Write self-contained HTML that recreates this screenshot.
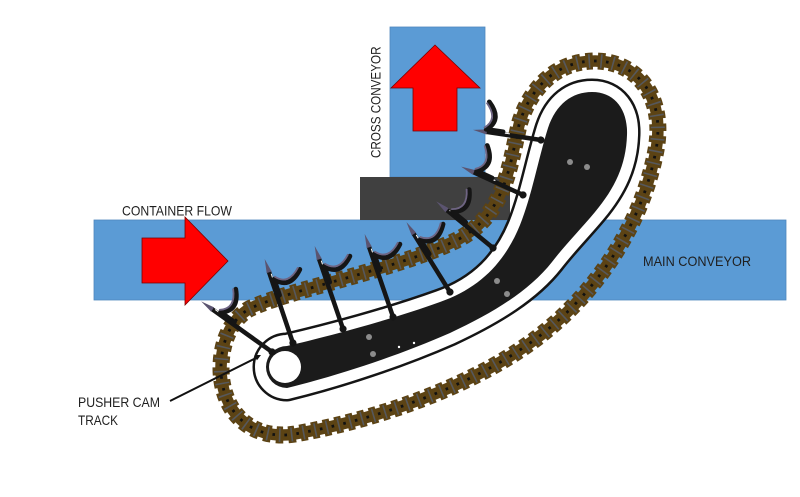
<!DOCTYPE html>
<html><head><meta charset="utf-8"><style>
html,body{margin:0;padding:0;background:#fff;}
svg{display:block;}
text{font-family:"Liberation Sans",sans-serif;fill:#1f1f1f;}
</style></head><body>
<svg width="800" height="497" viewBox="0 0 800 497" xmlns="http://www.w3.org/2000/svg">
<defs>
<g id="cup">
<path d="M2.5,38 L2.5,21 Q14,36 30,20" stroke="#151515" stroke-width="4.8" fill="none" stroke-linejoin="round" stroke-linecap="round"/>
<path d="M3.5,18.5 Q14,32 29,17.5" stroke="#6e6482" stroke-width="1.8" fill="none"/>
</g>
<g id="tip">
<path d="M0,-1 L2.6,13 L-2.6,13 Z" fill="#5b5470"/>
<line x1="1.5" y1="15" x2="1.5" y2="36" stroke="#fff" stroke-width="1"/>
</g>
<path id="chainp" d="M221,368 C221,411 250,441 295,434 C380,419 470,386 530,343 C591,300 641,230 656,150 C666,94 635,61 595,61 C555,61 529,90 519,125 C509,170 504,214 459,239 C400,269 290,289 249,309 C229,321 221,345 221,368 Z"/>
</defs>
<rect x="0" y="0" width="800" height="497" fill="#fff"/>
<!-- conveyors -->
<rect x="94" y="220" width="692" height="80" fill="#5b9bd5" stroke="#4f87bd" stroke-width="0.8"/>
<rect x="390" y="27" width="95" height="150" fill="#5b9bd5" stroke="#4f87bd" stroke-width="0.8"/>
<rect x="360" y="177" width="150" height="43" fill="#404040"/>
<!-- red arrows -->
<polygon points="142,238 185,238 185,217 228,261 185,305 185,283 142,283" fill="#ff0000" stroke="#7a0000" stroke-width="0.8"/>
<polygon points="435,45 480,88 457,88 457,131 413,131 413,88 391,88" fill="#ff0000" stroke="#7a0000" stroke-width="0.8"/>
<!-- labels -->
<text x="122" y="215.5" font-size="14" textLength="110" lengthAdjust="spacingAndGlyphs">CONTAINER FLOW</text>
<text x="643" y="266" font-size="14" textLength="108" lengthAdjust="spacingAndGlyphs">MAIN CONVEYOR</text>
<text x="78" y="407" font-size="14" textLength="82" lengthAdjust="spacingAndGlyphs">PUSHER CAM</text>
<text x="78" y="425" font-size="14" textLength="40" lengthAdjust="spacingAndGlyphs">TRACK</text>
<text transform="translate(380.7,158) rotate(-90)" x="0" y="0" font-size="14" textLength="111.5" lengthAdjust="spacingAndGlyphs">CROSS CONVEYOR</text>

<!-- cam track -->
<path d="M287,346 C330,336 390,320 440,302 C480,288 505,262 520,225 C532,195 538,160 548,128 C556,104 572,92 592,92 C615,92 628,110 627,135 C626,165 615,188 595,212 C580,230 565,245 552,262 C530,290 495,312 450,333 C400,355 340,375 287,388 A21,21 0 0 1 287,346 Z" fill="#1b1b1b" stroke="#151515" stroke-width="27" stroke-linejoin="round"/>
<path d="M287,346 C330,336 390,320 440,302 C480,288 505,262 520,225 C532,195 538,160 548,128 C556,104 572,92 592,92 C615,92 628,110 627,135 C626,165 615,188 595,212 C580,230 565,245 552,262 C530,290 495,312 450,333 C400,355 340,375 287,388 A21,21 0 0 1 287,346 Z" fill="#1b1b1b" stroke="#ffffff" stroke-width="22" stroke-linejoin="round"/>
<path d="M287,346 C330,336 390,320 440,302 C480,288 505,262 520,225 C532,195 538,160 548,128 C556,104 572,92 592,92 C615,92 628,110 627,135 C626,165 615,188 595,212 C580,230 565,245 552,262 C530,290 495,312 450,333 C400,355 340,375 287,388 A21,21 0 0 1 287,346 Z" fill="#1b1b1b"/>
<circle cx="285" cy="367" r="16" fill="#fff"/>
<g fill="#8c8c8c">
<circle cx="570" cy="162" r="3"/><circle cx="587" cy="167" r="3"/>
<circle cx="497" cy="281" r="3"/><circle cx="507" cy="294" r="3"/>
<circle cx="369" cy="337" r="3"/><circle cx="373" cy="354" r="3"/>
</g>
<circle cx="399" cy="347" r="1.2" fill="#fff"/><circle cx="414" cy="343" r="1.2" fill="#fff"/>

<!-- chain -->
<g fill="none">
<use href="#chainp" stroke="#5c4314" stroke-width="17" stroke-dasharray="7 5"/>
<use href="#chainp" stroke="#5c4314" stroke-width="11.5"/>
<use href="#chainp" stroke="#56585c" stroke-width="14" stroke-dasharray="1.6 10.4" stroke-dashoffset="-2.7"/>
<use href="#chainp" stroke="#111" stroke-width="2.8" stroke-dasharray="2.6 9.4" stroke-dashoffset="-8.2"/>
</g>

<!-- pushers -->
<g transform="translate(202,302) rotate(-54.5)">
<line x1="0" y1="12" x2="0" y2="86" stroke="#151515" stroke-width="4.5"/>
<use href="#tip"/><use href="#cup"/>
<circle cx="0" cy="86" r="3.6" fill="#151515"/>
</g>
<g transform="translate(265,260) rotate(-18.6)">
<line x1="0" y1="12" x2="0" y2="87.6" stroke="#151515" stroke-width="4.5"/>
<use href="#tip"/><use href="#cup"/>
<circle cx="0" cy="87.6" r="3.6" fill="#151515"/>
</g>
<g transform="translate(315,247) rotate(-18.9)">
<line x1="0" y1="12" x2="0" y2="86.6" stroke="#151515" stroke-width="4.5"/>
<use href="#tip"/><use href="#cup"/>
<circle cx="0" cy="86.6" r="3.6" fill="#151515"/>
</g>
<g transform="translate(365,235) rotate(-18.9)">
<line x1="0" y1="12" x2="0" y2="86.6" stroke="#151515" stroke-width="4.5"/>
<use href="#tip"/><use href="#cup"/>
<circle cx="0" cy="86.6" r="3.6" fill="#151515"/>
</g>
<g transform="translate(407,223) rotate(-31.9)">
<line x1="0" y1="12" x2="0" y2="81.3" stroke="#151515" stroke-width="4.5"/>
<use href="#tip"/><use href="#cup"/>
<circle cx="0" cy="81.3" r="3.6" fill="#151515"/>
</g>
<g transform="translate(437,202) rotate(-50.6)">
<line x1="0" y1="12" x2="0" y2="72.5" stroke="#151515" stroke-width="4.5"/>
<use href="#tip"/><use href="#cup" transform="translate(0,-3)"/>
<circle cx="0" cy="72.5" r="3.6" fill="#151515"/>
</g>
<g transform="translate(462,167) rotate(-65.4)">
<line x1="0" y1="12" x2="0" y2="67.1" stroke="#151515" stroke-width="4.5"/>
<use href="#tip"/><use href="#cup" transform="translate(0,-6)"/>
<circle cx="0" cy="67.1" r="3.6" fill="#151515"/>
</g>
<g transform="translate(474,130) rotate(-81.5)">
<line x1="0" y1="12" x2="0" y2="67.7" stroke="#151515" stroke-width="4.5"/>
<use href="#tip"/><use href="#cup" transform="translate(0,-9)"/>
<circle cx="0" cy="67.7" r="3.6" fill="#151515"/>
</g>

<!-- pointer -->
<line x1="170" y1="401" x2="257" y2="357.5" stroke="#111" stroke-width="2"/>
<polygon points="261,355 256.9,360.4 254.3,355" fill="#111"/>
</svg>
</body></html>
